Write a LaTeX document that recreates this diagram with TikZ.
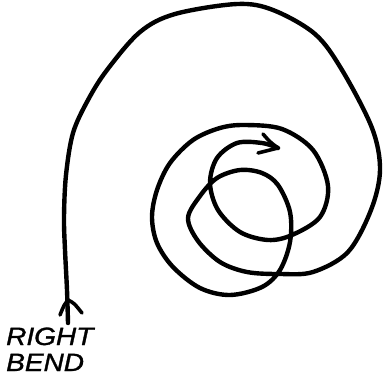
\documentclass[tikz,border=0pt]{standalone}
\usepackage{fontspec}
\setsansfont{Liberation Sans}
\begin{document}
\begin{tikzpicture}[x=1pt,y=-1pt,
  ink/.style={line width=4.4pt,line cap=round,line join=round,black},
  inkthin/.style={line width=3.6pt,line cap=round,line join=round,black},
  lbl/.style={font=\sffamily\itshape\fontsize{25}{25}\selectfont,inner sep=0pt,anchor=base west,xscale=1.12}]
\useasboundingbox (0,0) rectangle (383,376);
% main spiral
\draw[ink] plot[smooth,tension=0.55] coordinates {
 (68,323) (67,290) (65,250) (64,217) (66,175) (73,133) (88,100) (107,70)
 (140,32) (175,14) (237,4) (273,10) (315,34) (342,70) (372,128) (380,170)
 (371,210) (348,252) (313,272) (280,274) (247,272) (220,262) (198,241)
 (188,218) (200,196) (217,178) (240,170) (262,173) (278,185) (290,212)
 (290,242) (280,270) (262,287) (230,295) (200,288) (173,267) (157,243)
 (152,217) (157,190) (170,163) (193,140) (220,128) (245,125) (282,129)
 (313,150) (328,186) (320,217) (292,235) (268,240) (240,232) (218,210)
 (210,183) (217,158) (237,143) (262,143) (278,148)};
% end arrowhead
\coordinate (tipE) at (278,148);
\coordinate (armE1) at (263,134);
\coordinate (armE2) at (258,153);
\draw[inkthin] (armE1) .. controls (270,142) .. (tipE) -- (armE2);
% start arrowhead
\coordinate (tipS) at (68,300);
\coordinate (armS1) at (60,315);
\coordinate (armS2) at (82,313);
\draw[inkthin] (armS1) .. controls (64,305) .. (tipS) .. controls (74,303) .. (armS2);
% label
\node[lbl] (r) at (6,345) {\addfontfeature{FakeBold=1.2}RIGHT};
\node[lbl] (b) at (6,371) {\addfontfeature{FakeBold=1.2}BEND};
\end{tikzpicture}
\end{document}
